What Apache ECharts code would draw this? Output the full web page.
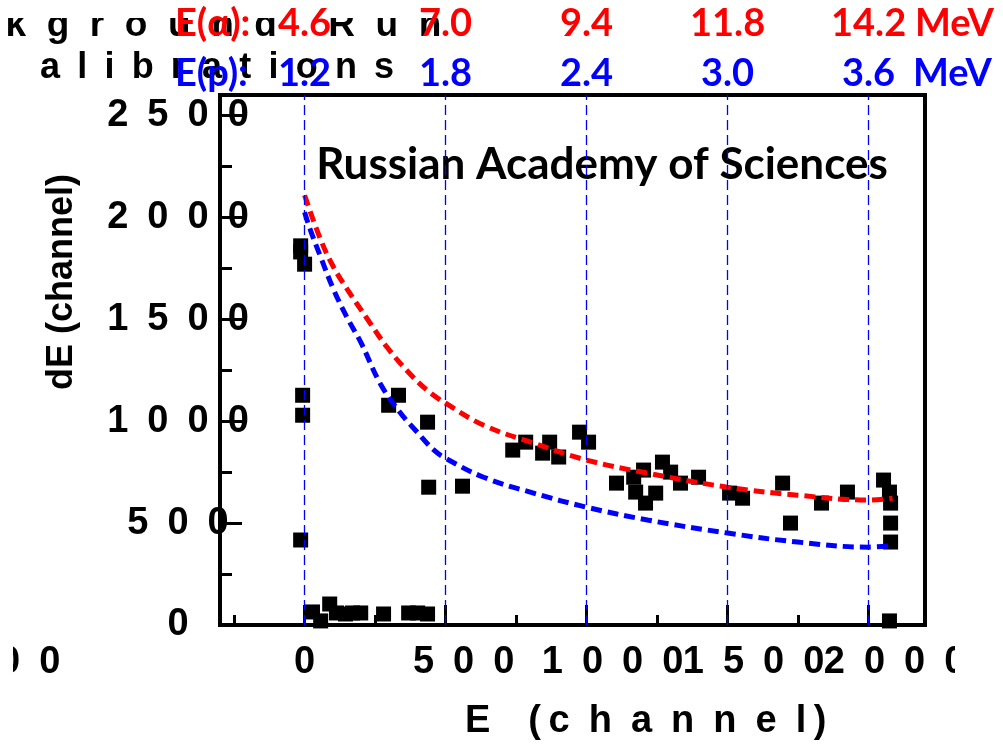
<!DOCTYPE html>
<html><head><meta charset="utf-8">
<script src="https://cdn.jsdelivr.net/npm/echarts@6/dist/echarts.min.js"></script>
<style>html,body{margin:0;padding:0;background:#fff}#c{width:1003px;height:746px}</style>
</head><body><div id="c"></div>
<script>
// ---- data ----
const xTickValues = [0, 500, 1000, 1500, 2000];
const xTickLabels = ['0', '500', '1000', '1500', '2000'];
const xMinorTicks = [-250, 250, 750, 1250, 1750];
const yTickValues = [0, 500, 1000, 1500, 2000, 2500];
const yTickLabels = ['0', '500', '1000', '1500', '2000', '2500'];
const yMinorTicks = [250, 750, 1250, 1750, 2250];
const alphaEnergy = ['4.6', '7.0', '9.4', '11.8', '14.2'];
const protonEnergy = ['1.2', '1.8', '2.4', '3.0', '3.6'];

const measuredE = [-14, -14, 0, -7, -7, -14,
  28, 57, 89, 113, 145, 170, 199, 280, 369, 401, 436,
  298, 333, 436, 440, 560, 738, 784, 844, 869, 901, 975, 1007,
  1106, 1167, 1202, 1174, 1209, 1245, 1269, 1298, 1333, 1397,
  1507, 1553, 1695, 1723, 1833, 1925, 2053, 2074, 2078, 2078, 2078, 2074];
const measuredDE = [1860, 1830, 1770, 1127, 1029, 417,
  64, 20, 103, 59, 54, 59, 59, 54, 59, 59, 54,
  1078, 1127, 995, 676, 681, 858, 897, 843, 897, 824, 946, 897,
  696, 725, 760, 652, 598, 647, 799, 750, 696, 725,
  647, 622, 696, 500, 598, 652, 711, 652, 598, 500, 407, 20];

const alphaCurveE  = [0, 57, 103, 152, 223, 294, 365, 436, 500, 635, 812, 1000, 1216, 1500, 1748, 2000, 2085];
const alphaCurveDE = [2108, 1890, 1755, 1645, 1500, 1360, 1245, 1150, 1088, 980, 892, 809, 745, 676, 637, 613, 622];
const protonCurveE  = [0, 20, 57, 103, 152, 200, 270, 340, 400, 457, 500, 635, 812, 1000, 1216, 1500, 1748, 2000, 2085];
const protonCurveDE = [2025, 1940, 1805, 1645, 1505, 1385, 1180, 1040, 945, 860, 818, 725, 647, 578, 515, 451, 407, 382, 390];

// ---- chart ----
const numFont = {fontFamily: '"Liberation Sans", Arial, sans-serif', fontWeight: 'bold', fontSize: 38, color: '#000'};
const topFont = {fontFamily: 'Lato, "Open Sans", sans-serif', fontWeight: 'bold', fontSize: 38};
const spaced = s => s.split('').join('\u2002');
const zip = (a, b) => a.map((v, i) => [v, b[i]]);
const evenTicks = xTickValues.filter((v, i) => i % 2 === 0);
const oddTicks = xTickValues.filter((v, i) => i % 2 === 1);

const chart = echarts.init(document.getElementById('c'), null, {renderer: 'canvas'});
const xBase = {type: 'value', min: -300, max: 2200, splitLine: {show: false}};
const yBase = {type: 'value', min: 0, max: 2600, splitLine: {show: false}};
const bottomLabel = values => ({
  show: true, margin: 38, verticalAlign: 'middle', customValues: values, hideOverlap: false,
  showMinLabel: true, showMaxLabel: true,
  formatter: v => { const s = xTickLabels[xTickValues.indexOf(v)]; return '{d' + s.length + '|' + spaced(s) + '}'; },
  rich: {
    d1: Object.assign({}, numFont),
    d3: Object.assign({padding: [0, 0, 0, 36]}, numFont),
    d4: Object.assign({padding: [0, 0, 0, 52]}, numFont)
  }
});

chart.setOption({
  animation: false,
  backgroundColor: '#fff',
  grid: {left: 220, right: 78, top: 95, bottom: 121, show: true, borderColor: '#000', borderWidth: 4, backgroundColor: '#fff'},
  xAxis: [
    Object.assign({}, xBase, {
      position: 'bottom', z: 4,
      axisLine: {show: true, onZero: false, lineStyle: {color: '#000', width: 4}},
      axisTick: {show: true, inside: true, length: 20, customValues: xTickValues, lineStyle: {color: '#000', width: 3}},
      axisLabel: bottomLabel(evenTicks)
    }),
    Object.assign({}, xBase, {
      position: 'bottom', z: 4,
      axisLine: {show: false, onZero: false},
      axisTick: {show: true, inside: true, length: 10, customValues: xMinorTicks, lineStyle: {color: '#000', width: 3}},
      axisLabel: bottomLabel(oddTicks)
    }),
    Object.assign({}, xBase, {
      position: 'top', z: 10,
      axisLine: {show: false, onZero: false}, axisTick: {show: false},
      axisLabel: Object.assign({show: true, margin: 71, verticalAlign: 'middle', customValues: xTickValues, hideOverlap: false,
        showMinLabel: true, showMaxLabel: true,
        formatter: v => alphaEnergy[xTickValues.indexOf(v)]}, topFont, {color: '#ff0000'})
    }),
    Object.assign({}, xBase, {
      position: 'top', z: 10,
      axisLine: {show: false, onZero: false}, axisTick: {show: false},
      axisLabel: Object.assign({show: true, margin: 21, verticalAlign: 'middle', customValues: xTickValues, hideOverlap: false,
        showMinLabel: true, showMaxLabel: true,
        formatter: v => protonEnergy[xTickValues.indexOf(v)]}, topFont, {color: '#0000ff'})
    })
  ],
  yAxis: [
    Object.assign({}, yBase, {
      position: 'left', z: 4,
      axisLine: {show: true, onZero: false, lineStyle: {color: '#000', width: 4}},
      axisTick: {show: true, inside: true, length: 22, customValues: yTickValues, lineStyle: {color: '#000', width: 3}},
      axisLabel: Object.assign({show: true, margin: 42, align: 'center', verticalAlign: 'middle', customValues: yTickValues, hideOverlap: false,
        showMinLabel: true, showMaxLabel: true,
        formatter: v => spaced(yTickLabels[yTickValues.indexOf(v)])}, numFont)
    }),
    Object.assign({}, yBase, {
      position: 'left', z: 4,
      axisLine: {show: false, onZero: false},
      axisTick: {show: true, inside: true, length: 12, customValues: yMinorTicks, lineStyle: {color: '#000', width: 3}},
      axisLabel: {show: false}
    })
  ],
  series: [
    {
      type: 'line', xAxisIndex: 0, yAxisIndex: 0, data: [], z: 1, silent: true,
      markLine: {
        silent: true, symbol: ['none', 'none'], label: {show: false},
        lineStyle: {color: '#0000ff', width: 1.3, type: [10, 5]},
        data: xTickValues.map(v => ({xAxis: v}))
      }
    },
    {
      name: 'measured', type: 'scatter', xAxisIndex: 0, yAxisIndex: 0, z: 2,
      symbol: 'rect', symbolSize: 15,
      itemStyle: {color: '#000', opacity: 1},
      data: zip(measuredE, measuredDE)
    },
    {
      name: 'alpha', type: 'line', xAxisIndex: 0, yAxisIndex: 0, z: 3, smooth: 0.4, showSymbol: false,
      lineStyle: {color: '#ff0000', width: 5, type: [11, 6]},
      data: zip(alphaCurveE, alphaCurveDE)
    },
    {
      name: 'proton', type: 'line', xAxisIndex: 0, yAxisIndex: 0, z: 3, smooth: 0.4, showSymbol: false,
      lineStyle: {color: '#0000ff', width: 5, type: [11, 6]},
      data: zip(protonCurveE, protonCurveDE)
    }
  ],
  graphic: [
    // clipped background caption, top-left
    {type: 'text', z: 1, style: {text: 'B  a  c  k  g  r  o  u  n  d     R  u  n', x: -124, y: 26, verticalAlign: 'middle',
      font: 'bold 37px "Liberation Sans", Arial, sans-serif', fill: '#000'}},
    {type: 'text', z: 1, style: {text: 'a \u2009l \u2009i \u2009b \u2009r \u2009a \u2009t \u2009i \u2009o \u2009n \u2009s', x: 40, y: 68, verticalAlign: 'middle',
      font: 'bold 36px "Liberation Sans", Arial, sans-serif', fill: '#000'}},
    {type: 'rect', z: 2, shape: {x: 0, y: 0, width: 470, height: 18}, style: {fill: '#fff'}},
    // energy scale prefixes / units
    {type: 'text', z: 5, style: {text: 'E(α):', x: 175, y: 24, verticalAlign: 'middle', font: 'bold 38px Lato, "Open Sans", sans-serif', fill: '#ff0000'}},
    {type: 'text', z: 5, style: {text: 'MeV', x: 915, y: 24, verticalAlign: 'middle', font: 'bold 38px Lato, "Open Sans", sans-serif', fill: '#ff0000'}},
    {type: 'text', z: 5, style: {text: 'E(p):', x: 175, y: 74, verticalAlign: 'middle', font: 'bold 38px Lato, "Open Sans", sans-serif', fill: '#0000ff'}},
    {type: 'text', z: 5, style: {text: 'MeV', x: 913, y: 74, verticalAlign: 'middle', font: 'bold 38px Lato, "Open Sans", sans-serif', fill: '#0000ff'}},
    // annotation
    {type: 'text', z: 5, style: {text: 'Russian Academy of Sciences', x: 602, y: 165, align: 'center', verticalAlign: 'middle',
      font: 'bold 44px Lato, "Open Sans", sans-serif', fill: '#000'}},
    // axis titles
    {type: 'text', z: 5, style: {text: 'E\u2002\u2002(\u2009c\u2002h\u2002a\u2002n\u2002n\u2002e\u2002l\u2009)', x: 465, y: 722, verticalAlign: 'middle',
      font: 'bold 38px "Liberation Sans", Arial, sans-serif', fill: '#000'}},
    {type: 'text', z: 5, x: 62, y: 282, rotation: Math.PI / 2, style: {text: 'dE (channel)', x: 0, y: 0, align: 'center', verticalAlign: 'middle',
      font: 'bold 36px "Liberation Sans", Arial, sans-serif', fill: '#000'}},
    // clipped tick label fragment at far left, and label clipping at right
    {type: 'text', z: 5, style: {text: '0\u20020', x: -1, y: 663, verticalAlign: 'middle', font: 'bold 38px "Liberation Sans", Arial, sans-serif', fill: '#000'}},
    {type: 'rect', z: 6, shape: {x: 0, y: 640, width: 13, height: 50}, style: {fill: '#fff'}},
    {type: 'rect', z: 6, shape: {x: 955, y: 640, width: 48, height: 50}, style: {fill: '#fff'}}
  ]
});
</script></body></html>
